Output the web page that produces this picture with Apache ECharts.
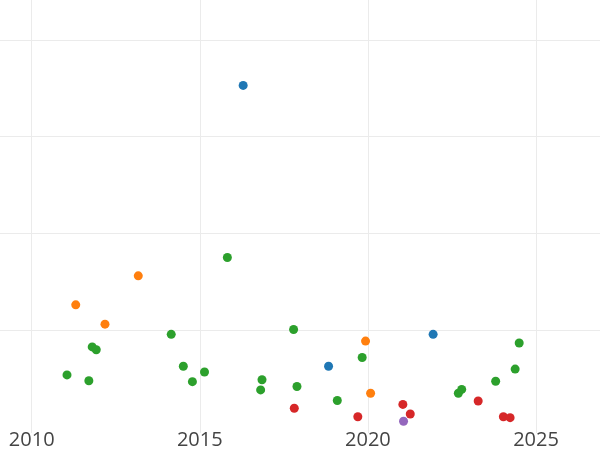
<!DOCTYPE html>
<html>
<head>
<meta charset="utf-8">
<script src="https://cdn.jsdelivr.net/npm/echarts@6/dist/echarts.min.js"></script>
<style>html,body{margin:0;padding:0;background:#fff;}#c{width:600px;height:450px;}</style>
</head>
<body>
<div id="c"></div>
<script>
// x tick labels
const xTicks = [2010, 2015, 2020, 2025];
// horizontal grid values
const yGridValues = [0, 20, 40, 60, 80];

const blueYears = [2016.29, 2018.83, 2021.94];
const blueValues = [70.6, 12.5, 19.1];

const orangeYears = [2011.31, 2012.18, 2013.17, 2019.93, 2020.08];
const orangeValues = [25.2, 21.2, 31.2, 17.7, 6.9];

const greenYears = [2011.05, 2011.70, 2011.80, 2011.92, 2014.15, 2014.51, 2014.78, 2015.14, 2015.82, 2016.81, 2016.85, 2017.79, 2017.89, 2019.09, 2019.83, 2022.69, 2022.79, 2023.80, 2024.38, 2024.50];
const greenValues = [10.7, 9.5, 16.5, 15.9, 19.1, 12.5, 9.3, 11.3, 35.0, 7.6, 9.7, 20.1, 8.3, 5.4, 14.3, 6.9, 7.7, 9.4, 11.9, 17.3];

const redYears = [2017.81, 2019.70, 2021.04, 2021.26, 2023.28, 2024.03, 2024.23];
const redValues = [3.8, 2.05, 4.6, 2.6, 5.3, 2.05, 1.85];

const purpleYears = [2021.06];
const purpleValues = [1.1];

function pairs(xs, ys) { return xs.map((x, i) => [x, ys[i]]); }

const groups = [
  { name: 'A', color: '#1f77b4', xs: blueYears, ys: blueValues },
  { name: 'B', color: '#ff7f0e', xs: orangeYears, ys: orangeValues },
  { name: 'C', color: '#2ca02c', xs: greenYears, ys: greenValues },
  { name: 'D', color: '#d62728', xs: redYears, ys: redValues },
  { name: 'E', color: '#9467bd', xs: purpleYears, ys: purpleValues }
];

const gridColor = '#ebebeb';
const chart = echarts.init(document.getElementById('c'), null, { renderer: 'canvas' });
chart.setOption({
  animation: false,
  backgroundColor: '#ffffff',
  grid: [
    { left: -136.4, width: 840.5, top: 0, height: 433, containLabel: false, outerBoundsMode: 'none' },
    { left: 0, right: 0, top: 40, height: 386.6, containLabel: false, outerBoundsMode: 'none' }
  ],
  xAxis: [
    {
      gridIndex: 0, type: 'value', min: 2005, max: 2030, interval: 5,
      axisLine: { show: false }, axisTick: { show: false },
      splitLine: { show: true, lineStyle: { color: gridColor, width: 1 } },
      axisLabel: {
        margin: -3, fontFamily: 'Open Sans', fontSize: 20, color: '#444',
        formatter: v => (xTicks.indexOf(v) >= 0 ? String(v) : '')
      }
    },
    { gridIndex: 1, type: 'value', min: 0, max: 1, show: false }
  ],
  yAxis: [
    { gridIndex: 0, type: 'value', min: -1.32, max: 88.28, show: false },
    {
      gridIndex: 1, type: 'value', min: 0, max: 80, interval: 20,
      axisLine: { show: false }, axisTick: { show: false }, axisLabel: { show: false },
      splitLine: { show: true, lineStyle: { color: yGridValues.map(v => v === 0 ? 'rgba(0,0,0,0)' : gridColor), width: 1 } }
    }
  ],
  series: groups.map(g => ({
    type: 'scatter', name: g.name, xAxisIndex: 0, yAxisIndex: 0,
    symbolSize: 9, itemStyle: { color: g.color, opacity: 1 },
    data: pairs(g.xs, g.ys), z: 3
  }))
});
</script>
</body>
</html>
